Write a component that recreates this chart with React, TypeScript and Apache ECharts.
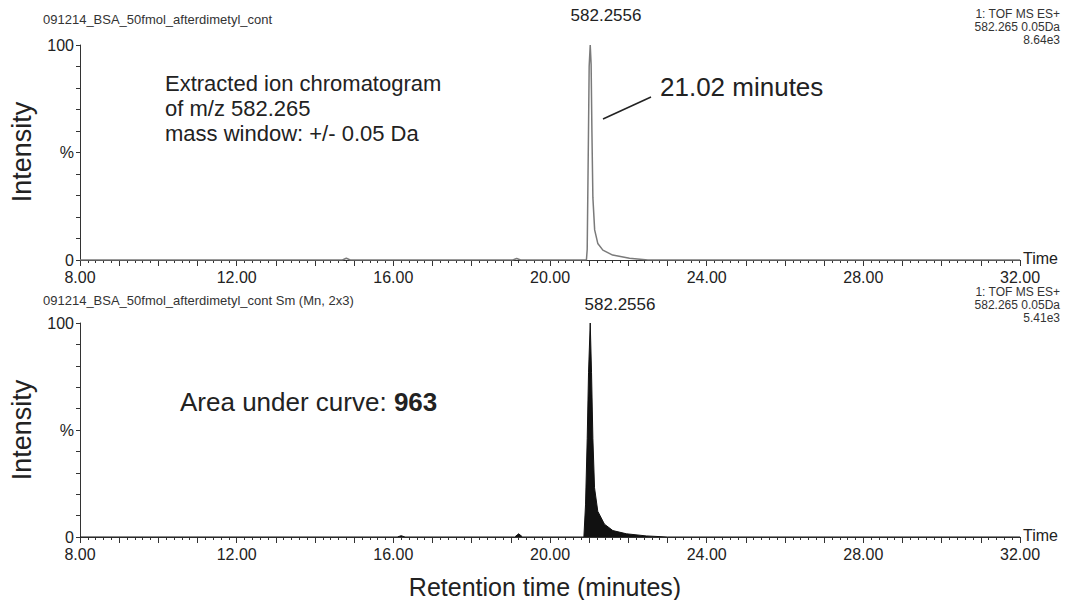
import React, { useEffect, useRef } from "react";
import * as echarts from "echarts";

// Top panel: extracted ion chromatogram (raw)
const topTimes = [8, 14.7, 14.8, 14.9, 19.05, 19.15, 19.25, 20.93, 20.95, 20.98, 21.0, 21.027, 21.05, 21.07, 21.095, 21.14, 21.22, 21.35, 21.6, 22.03, 22.5, 32];
const topIntensity = [0, 0, 0.8, 0, 0, 0.7, 0, 0, 5, 55, 90, 100, 91, 60, 29, 14, 7.7, 4.6, 2.3, 0.8, 0, 0];

// Bottom panel: smoothed chromatogram (filled)
const botTimes = [8, 16.1, 16.2, 16.3, 19.1, 19.2, 19.3, 20.865, 20.907, 20.95, 20.984, 21.027, 21.06, 21.095, 21.137, 21.22, 21.39, 21.605, 21.95, 22.46, 23.0, 32];
const botIntensity = [0, 0, 0.6, 0, 0, 1.5, 0, 0, 15, 46, 77, 100, 77, 46, 23, 12, 6, 3, 1.5, 0.5, 0, 0];

const xTickLabels = [8, 12, 16, 20, 24, 28, 32];
const yTickLabels: Record<number, string> = { 0: "0", 50: "%", 100: "100" };

const FONT = "Liberation Sans, Arial, sans-serif";
const INK = "#222";

function xAxisCfg(gridIndex: number) {
  return {
    type: "value" as const,
    gridIndex,
    min: 8,
    max: 32,
    interval: 1,
    name: "Time",
    nameLocation: "end" as const,
    nameGap: 3,
    nameTextStyle: { fontFamily: FONT, fontSize: 16, color: INK, align: "left", verticalAlign: "bottom", padding: [0, 0, -6, 0] },
    axisLine: { show: true, onZero: false, lineStyle: { color: "#333", width: 1 } },
    axisTick: { show: true, inside: false, length: 6, lineStyle: { color: "#333", width: 1 } },
    minorTick: { show: true, splitNumber: 5, length: 3, lineStyle: { color: "#333", width: 1 } },
    splitLine: { show: false },
    minorSplitLine: { show: false },
    axisLabel: {
      show: true,
      margin: 9,
      fontFamily: FONT,
      fontSize: 16,
      color: INK,
      formatter: (v: number) => (xTickLabels.indexOf(v) >= 0 ? v.toFixed(2) : ""),
    },
  };
}

function yAxisCfg(gridIndex: number) {
  return {
    type: "value" as const,
    gridIndex,
    min: 0,
    max: 100,
    interval: 10,
    axisLine: { show: true, lineStyle: { color: "#333", width: 1 } },
    axisTick: { show: true, inside: false, length: 4, lineStyle: { color: "#333", width: 1 } },
    splitLine: { show: false },
    axisLabel: {
      show: true,
      margin: 6,
      fontFamily: FONT,
      fontSize: 16,
      color: INK,
      formatter: (v: number) => yTickLabels[v] ?? "",
    },
  };
}

function txt(x: number, y: number, text: string, fontSize: number, align = "left", extra: any = {}) {
  return {
    type: "text",
    x,
    y,
    silent: true,
    style: { text, fontFamily: FONT, fontSize, fill: INK, align, verticalAlign: "middle", ...extra },
  };
}

export default function App() {
  const ref = useRef<HTMLDivElement>(null);
  useEffect(() => {
    if (!ref.current) return;
    const chart = echarts.init(ref.current, undefined, { renderer: "svg" });
    const topData = topTimes.map((t, i) => [t, topIntensity[i]]);
    const botData = botTimes.map((t, i) => [t, botIntensity[i]]);
    chart.setOption({
      animation: false,
      backgroundColor: "#fff",
      grid: [
        { left: 80, top: 45, width: 940, height: 215 },
        { left: 80, top: 323, width: 940, height: 214 },
      ],
      xAxis: [xAxisCfg(0), xAxisCfg(1)],
      yAxis: [yAxisCfg(0), yAxisCfg(1)],
      series: [
        {
          type: "line",
          xAxisIndex: 0,
          yAxisIndex: 0,
          data: topData,
          showSymbol: false,
          lineStyle: { color: "#7a7a7a", width: 1.5 },
        },
        {
          type: "line",
          xAxisIndex: 1,
          yAxisIndex: 1,
          data: botData,
          showSymbol: false,
          lineStyle: { color: "#111", width: 1 },
          areaStyle: { color: "#111", opacity: 1 },
        },
      ],
      graphic: [
        txt(43, 19, "091214_BSA_50fmol_afterdimetyl_cont", 13, "left", { fill: "#333" }),
        txt(1060, 14, "1: TOF MS ES+", 12, "right", { fill: "#333" }),
        txt(1060, 27, "582.265 0.05Da", 12, "right", { fill: "#333" }),
        txt(1060, 40, "8.64e3", 12, "right", { fill: "#333" }),
        txt(606, 15, "582.2556", 17, "center"),
        txt(165, 83, "Extracted ion chromatogram", 22),
        txt(165, 108, "of m/z 582.265", 22),
        txt(165, 133, "mass window: +/- 0.05 Da", 22),
        txt(660, 87, "21.02 minutes", 26),
        {
          type: "line",
          silent: true,
          shape: { x1: 603, y1: 119, x2: 651, y2: 97 },
          style: { stroke: INK, lineWidth: 1.5 },
        },
        txt(43, 300, "091214_BSA_50fmol_afterdimetyl_cont Sm (Mn, 2x3)", 13, "left", { fill: "#333" }),
        txt(1060, 292, "1: TOF MS ES+", 12, "right", { fill: "#333" }),
        txt(1060, 305, "582.265 0.05Da", 12, "right", { fill: "#333" }),
        txt(1060, 318, "5.41e3", 12, "right", { fill: "#333" }),
        txt(620, 304, "582.2556", 17, "center"),
        {
          type: "text",
          x: 180,
          y: 402,
          silent: true,
          style: {
            text: "{a|Area under curve: }{b|963}",
            verticalAlign: "middle",
            rich: {
              a: { fontFamily: FONT, fontSize: 26, fill: INK },
              b: { fontFamily: FONT, fontSize: 26, fontWeight: "bold", fill: INK },
            },
          },
        },
        {
          type: "text",
          x: 22,
          y: 152,
          rotation: Math.PI / 2,
          silent: true,
          style: { text: "Intensity", fontFamily: FONT, fontSize: 27, fill: INK, align: "center", verticalAlign: "middle" },
        },
        {
          type: "text",
          x: 22,
          y: 430,
          rotation: Math.PI / 2,
          silent: true,
          style: { text: "Intensity", fontFamily: FONT, fontSize: 27, fill: INK, align: "center", verticalAlign: "middle" },
        },
        txt(545, 587, "Retention time (minutes)", 25, "center"),
      ],
    });
    return () => chart.dispose();
  }, []);
  return (
    <div
      ref={ref}
      style={{ position: "fixed", left: 0, top: 0, width: 1065, height: 600, background: "#fff" }}
    />
  );
}
